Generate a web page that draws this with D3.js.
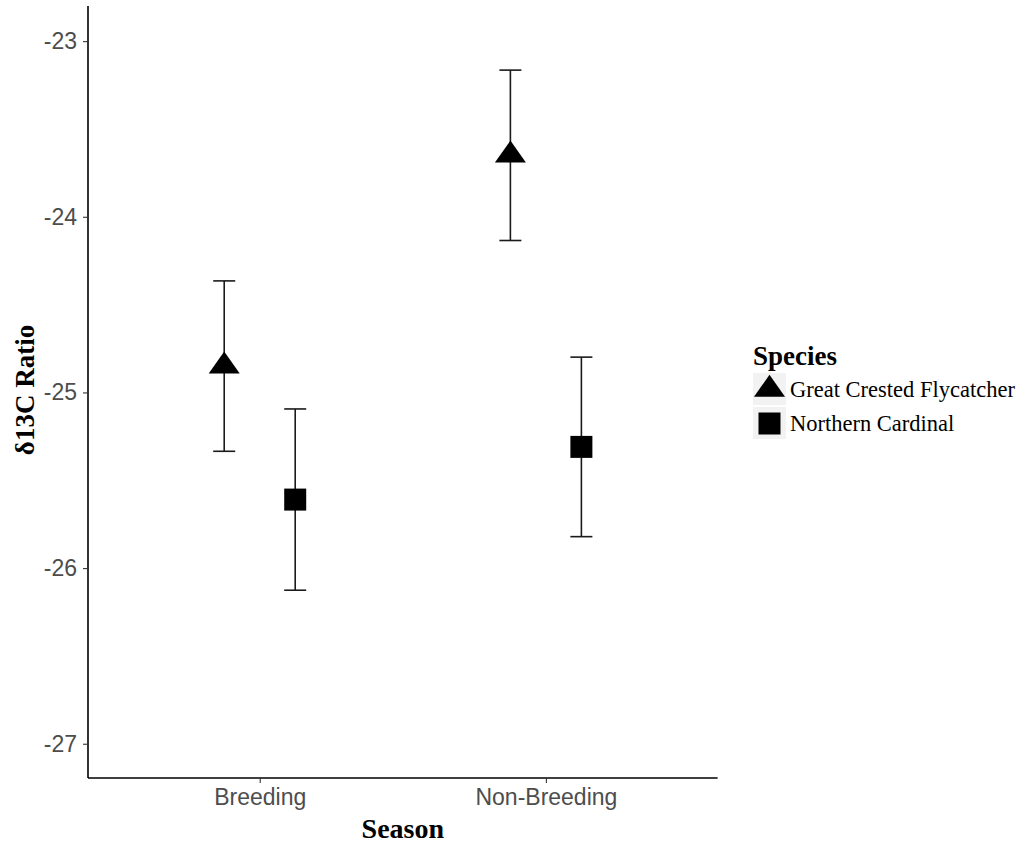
<!DOCTYPE html>
<html>
<head>
<meta charset="utf-8">
<script src="https://cdn.jsdelivr.net/npm/d3@7"></script>
<style>
  body { margin: 0; background: #fff; }
</style>
</head>
<body>
<div id="chart"></div>
<script>
// data
const seasons = ["Breeding", "Non-Breeding"];
const species = ["Great Crested Flycatcher", "Northern Cardinal"];
const meanGCF = [-24.85, -23.65];
const seGCF = [0.485, 0.485];
const meanNC = [-25.61, -25.31];
const seNC = [0.516, 0.511];
const yTicks = [-27, -26, -25, -24, -23];

const rows = [];
seasons.forEach((s, i) => {
  rows.push({season: s, species: species[0], mean: meanGCF[i], se: seGCF[i]});
  rows.push({season: s, species: species[1], mean: meanNC[i], se: seNC[i]});
});

const W = 1021, H = 843;
const plotL = 88, plotR = 717.6, plotT = 6, plotB = 778;

const svg = d3.select("#chart").append("svg")
  .attr("width", W).attr("height", H);

// scales
const x = d3.scalePoint().domain(seasons).range([plotL, plotR]).padding(0.6);
const dodge = d3.scalePoint().domain(species).range([-35.5, 35.5]);
const y = d3.scaleLinear().domain([-27.195, -22.8]).range([plotB, plotT]);

// marker shapes (ggplot shape 17 and 15)
function triangle(cx, cy) {
  return `M${cx - 15.5},${cy + 7.3}L${cx + 15.5},${cy + 7.3}L${cx},${cy - 14.7}Z`;
}
function square(cx, cy) {
  return `M${cx - 11},${cy - 11}h22v22h-22Z`;
}
const shapeOf = {"Great Crested Flycatcher": triangle, "Northern Cardinal": square};

// axes
const yAxis = svg.append("g")
  .attr("transform", `translate(${plotL},0)`)
  .call(d3.axisLeft(y).tickValues(yTicks).tickFormat(d => String(d)).tickSize(5).tickPadding(6));
const xAxis = svg.append("g")
  .attr("transform", `translate(0,${plotB})`)
  .call(d3.axisBottom(x).tickSize(5).tickPadding(6));

[yAxis, xAxis].forEach(g => {
  g.select(".domain").attr("stroke", "#000").attr("stroke-width", 1.6);
  g.selectAll(".tick line").attr("stroke", "#333").attr("stroke-width", 1.1);
  g.selectAll(".tick text").attr("fill", "#4d4d4d")
    .attr("font-family", "Liberation Sans, Arial, sans-serif").attr("font-size", "23px");
});
yAxis.select(".domain").attr("d", `M0,${plotT}V${plotB}`);
xAxis.select(".domain").attr("d", `M${plotL},0H${plotR}`);
xAxis.selectAll(".tick text").attr("dy", "0.71em").attr("y", 11);

// error bars
const eb = svg.append("g");
rows.forEach(d => {
  const cx = x(d.season) + dodge(d.species);
  const y1 = y(d.mean + d.se), y2 = y(d.mean - d.se);
  eb.append("line").attr("x1", cx).attr("x2", cx).attr("y1", y1).attr("y2", y2)
    .attr("stroke", "#1a1a1a").attr("stroke-width", 1.6);
  [y1, y2].forEach(yy => {
    eb.append("line").attr("x1", cx - 11).attr("x2", cx + 11).attr("y1", yy).attr("y2", yy)
      .attr("stroke", "#1a1a1a").attr("stroke-width", 1.6);
  });
});

// points
svg.append("g").selectAll("path")
  .data(rows)
  .join("path")
  .attr("d", d => shapeOf[d.species](x(d.season) + dodge(d.species), y(d.mean)))
  .attr("fill", "#000");

// axis titles
svg.append("text")
  .attr("x", (plotL + plotR) / 2).attr("y", 838)
  .attr("text-anchor", "middle")
  .attr("font-family", "Liberation Serif, Times New Roman, serif")
  .attr("font-weight", "bold").attr("font-size", "28px")
  .text("Season");

svg.append("text")
  .attr("transform", `translate(34,${(plotT + plotB) / 2 - 2}) rotate(-90)`)
  .attr("text-anchor", "middle")
  .attr("font-family", "Liberation Serif, Times New Roman, serif")
  .attr("font-weight", "bold").attr("font-size", "27px")
  .text("δ13C Ratio");

// legend
const lg = svg.append("g").attr("transform", "translate(753,0)");
lg.append("text")
  .attr("x", 0).attr("y", 365)
  .attr("font-family", "Liberation Serif, Times New Roman, serif")
  .attr("font-weight", "bold").attr("font-size", "27px")
  .text("Species");
species.forEach((s, i) => {
  const ky = 373 + i * 34;
  lg.append("rect").attr("x", 0).attr("y", ky).attr("width", 33).attr("height", 32)
    .attr("fill", "#f2f2f2");
  lg.append("path").attr("d", shapeOf[s](16.5, ky + 16.5)).attr("fill", "#000");
  lg.append("text")
    .attr("x", 37).attr("y", ky + 16.5).attr("dy", "0.35em")
    .attr("font-family", "Liberation Serif, Times New Roman, serif")
    .attr("font-size", "22.5px")
    .text(s);
});
</script>
</body>
</html>
